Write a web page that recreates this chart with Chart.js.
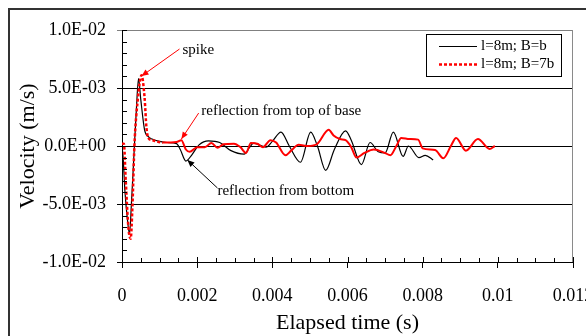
<!DOCTYPE html>
<html>
<head>
<meta charset="utf-8">
<script src="https://cdn.jsdelivr.net/npm/chart.js@4/dist/chart.umd.min.js"></script>
<style>
  html, body { margin: 0; padding: 0; background: #fff; }
  #wrap { position: relative; width: 586px; height: 336px; overflow: hidden; }
</style>
</head>
<body>
<div id="wrap"><canvas id="c" width="586" height="336"></canvas></div>
<script>
// ---- data (time in s, velocity in m/s) ----
const seriesLabels = ['l=8m; B=b', 'l=8m; B=7b'];

const blackTime = [0, 0.00003, 0.00008, 0.00015, 0.0002, 0.00025, 0.00033, 0.00038, 0.00044, 0.0005,
  0.0006, 0.0007, 0.0008, 0.001, 0.0012, 0.00145, 0.00155, 0.0017, 0.00185, 0.00205,
  0.0023, 0.0026, 0.0029, 0.00325, 0.0034, 0.0035, 0.00365, 0.00383, 0.004, 0.00423,
  0.00445, 0.00475, 0.00502, 0.0052, 0.00542, 0.00565, 0.00595, 0.0061, 0.00637, 0.0066,
  0.00682, 0.007, 0.00722, 0.00748, 0.00762, 0.0079, 0.00807, 0.00828];
const blackVel = [0, -0.001, -0.004, -0.0065, -0.0076, -0.005, 0, 0.003, 0.0058, 0.004,
  0.0014, 0.0008, 0.0006, 0.0004, 0.0003, 0.0002, -0.0003, -0.0013, -0.0008, 0.0001,
  0.00045, 0.0003, -0.0004, -0.0007, -0.0001, 0.00025, 0.0001, -0.0001, 0.0004, 0.0012,
  0, -0.0014, 0.0012, 0, -0.0021, -0.0003, 0.0013, 0.0005, -0.0016, 0.0003,
  -0.0005, -0.0006, 0.0012, -0.0009, 0, -0.001, -0.0008, -0.0012];

const redTime = [0, 0.00005, 0.0001, 0.00017, 0.00023, 0.00028, 0.00033, 0.00042, 0.00052, 0.0006,
  0.00065, 0.0007, 0.0008, 0.0011, 0.00145, 0.00158, 0.0017, 0.0018, 0.002, 0.0022,
  0.00238, 0.00254, 0.0027, 0.00298, 0.00315, 0.0033, 0.00343, 0.0036, 0.00375, 0.00395,
  0.0041, 0.00435, 0.0045, 0.0047, 0.00495, 0.0052, 0.0055, 0.00563, 0.0058, 0.00595,
  0.0061, 0.00624, 0.00645, 0.0067, 0.007, 0.00714, 0.0073, 0.00743, 0.00765, 0.00788,
  0.008, 0.00833, 0.00855, 0.00875, 0.00889, 0.00915, 0.00947, 0.00978, 0.00992];
const redVel = [0.0002, 0.0002, -0.003, -0.007, -0.008, -0.005, 0, 0.004, 0.0061, 0.0042,
  0.0016, 0.0007, 0.0005, 0.0003, 0.00035, 0.0005, -0.0003, -0.0005, -0.0001, -0.0001,
  0.00025, -0.00015, 0.00015, 0.0002, -0.0001, -0.0006, 0.00025, 0.0002, -0.0001, 0.0005,
  0.0003, -0.0008, -0.0004, 0.0001, 0, 0.0002, 0.0014, 0.0009, 0.0006, 0.0005,
  -0.0001, -0.001, -0.0006, -0.0003, -0.0006, -0.0008, 0, 0.0007, 0.0006, 0.00055,
  -0.0002, -0.00035, -0.00105, 0, 0.0007, -0.0004, 0.0006, -0.00025, 0];

const xTickValues = [0, 0.002, 0.004, 0.006, 0.008, 0.01, 0.012];
const xTickLabels = ['0', '0.002', '0.004', '0.006', '0.008', '0.01', '0.012'];
const yTickValues = [-0.01, -0.005, 0, 0.005, 0.01];
const yTickLabels = ['-1.0E-02', '-5.0E-03', '0.0E+00', '5.0E-03', '1.0E-02'];

// annotations: [text, textX, textY, arrowFromX, arrowFromY, arrowToX, arrowToY, colour] in data units
const notes = [
  ['spike', 0.00161, 0.00828, 0.00153, 0.00836, 0.00052, 0.00603, '#ff0000'],
  ['reflection from top of base', 0.00211, 0.00304, 0.00204, 0.00284, 0.00158, 0.0006, '#ff0000'],
  ['reflection from bottom', 0.00254, -0.00385, 0.00254, -0.00362, 0.00174, -0.0012, '#000000']
];

const FONT = "'Liberation Serif', 'Times New Roman', serif";

const pts = (xs, ys) => xs.map((x, i) => ({x: x, y: ys[i]}));

const decor = {
  id: 'decor',
  beforeDraw(chart) {
    const ctx = chart.ctx;
    ctx.save();
    ctx.strokeStyle = '#333';
    ctx.lineWidth = 2;
    ctx.beginPath();
    ctx.moveTo(9, 340); ctx.lineTo(9, 9); ctx.lineTo(600, 9);
    ctx.stroke();
    ctx.restore();
  },
  afterDraw(chart) {
    const ctx = chart.ctx;
    const xs = chart.scales.x, ys = chart.scales.y;
    const a = chart.chartArea;
    ctx.save();
    // right plot border
    ctx.strokeStyle = '#8a8a8a';
    ctx.lineWidth = 1;
    ctx.beginPath();
    ctx.moveTo(Math.round(a.right) - 0.5, a.top); ctx.lineTo(Math.round(a.right) - 0.5, a.bottom);
    ctx.stroke();
    // minor / inner ticks
    ctx.strokeStyle = '#000';
    ctx.lineWidth = 1;
    ctx.beginPath();
    for (let i = -10; i <= 10; i++) {
      const py = Math.round(ys.getPixelForValue(i * 0.001)) + 0.5;
      ctx.moveTo(a.left, py); ctx.lineTo(a.left + 5, py);
    }
    for (let i = 0; i <= 24; i++) {
      const px = Math.round(xs.getPixelForValue(i * 0.0005)) + 0.5;
      const len = (i % 4 === 0) ? 5 : 4;
      ctx.moveTo(px, a.bottom); ctx.lineTo(px, a.bottom - len);
    }
    ctx.stroke();
    // annotations
    ctx.font = '15px ' + FONT;
    ctx.textBaseline = 'middle';
    ctx.textAlign = 'left';
    notes.forEach(n => {
      const [txt, tx, ty, fx, fy, toX, toY, col] = n;
      ctx.fillStyle = '#000';
      ctx.fillText(txt, xs.getPixelForValue(tx), ys.getPixelForValue(ty));
      const x1 = xs.getPixelForValue(fx), y1 = ys.getPixelForValue(fy);
      const x2 = xs.getPixelForValue(toX), y2 = ys.getPixelForValue(toY);
      ctx.strokeStyle = col; ctx.fillStyle = col; ctx.lineWidth = 1;
      ctx.beginPath(); ctx.moveTo(x1, y1); ctx.lineTo(x2, y2); ctx.stroke();
      const ang = Math.atan2(y2 - y1, x2 - x1), L = 7, W = 3;
      ctx.beginPath();
      ctx.moveTo(x2, y2);
      ctx.lineTo(x2 - L * Math.cos(ang) + W * Math.sin(ang), y2 - L * Math.sin(ang) - W * Math.cos(ang));
      ctx.lineTo(x2 - L * Math.cos(ang) - W * Math.sin(ang), y2 - L * Math.sin(ang) + W * Math.cos(ang));
      ctx.closePath(); ctx.fill();
    });
    // legend box
    ctx.fillStyle = '#fff';
    ctx.fillRect(426, 34, 135, 42);
    ctx.strokeStyle = '#000'; ctx.lineWidth = 1;
    ctx.strokeRect(426.5, 34.5, 135, 42);
    chart.data.datasets.forEach((ds, i) => {
      const yy = 46 + i * 17.6;
      ctx.save();
      ctx.strokeStyle = ds.borderColor; ctx.lineWidth = ds.borderWidth;
      ctx.setLineDash(ds.borderDash || []);
      ctx.beginPath(); ctx.moveTo(439, Math.round(yy) + 0.5); ctx.lineTo(477, Math.round(yy) + 0.5); ctx.stroke();
      ctx.restore();
      ctx.fillStyle = '#000';
      ctx.font = '15px ' + FONT;
      ctx.fillText(ds.label, 481, yy);
    });
    ctx.restore();
  }
};

new Chart(document.getElementById('c'), {
  type: 'line',
  data: {
    datasets: [
      { label: seriesLabels[0], data: pts(blackTime, blackVel), borderColor: '#000000', borderWidth: 1.2,
        pointRadius: 0, cubicInterpolationMode: 'monotone', fill: false, order: 1 },
      { label: seriesLabels[1], data: pts(redTime, redVel), borderColor: '#ff0000', borderWidth: 2.5,
        borderDash: [3, 2], pointRadius: 0, cubicInterpolationMode: 'monotone', fill: false, order: 0,
        segment: {
          borderDash: c => (c.p0.parsed.x < 0.0009 ? [3, 2] : []),
          borderWidth: c => (c.p0.parsed.x < 0.0009 ? 2.5 : 2)
        } }
    ]
  },
  options: {
    responsive: false,
    animation: false,
    devicePixelRatio: 1,
    layout: { padding: { top: 30, right: 13, left: 0, bottom: 0 } },
    plugins: { legend: { display: false }, tooltip: { enabled: false } },
    scales: {
      x: {
        type: 'linear', min: 0, max: 0.012,
        afterBuildTicks: s => { s.ticks = xTickValues.map(v => ({value: v})); },
        afterFit: s => { s.height = 74; s.paddingLeft = 0; s.paddingRight = 0; },
        grid: { drawOnChartArea: false, drawTicks: true, tickLength: 6, color: '#000', lineWidth: 1 },
        border: { display: true, color: '#000', width: 1 },
        ticks: { color: '#000', font: { family: FONT, size: 18 }, padding: 17, maxRotation: 0,
                 autoSkip: false, callback: (v, i) => xTickLabels[i] },
        title: { display: true, text: 'Elapsed time (s)', color: '#000',
                 font: { family: FONT, size: 22 }, padding: { top: 0, bottom: 0 } }
      },
      y: {
        type: 'linear', min: -0.01, max: 0.01,
        afterBuildTicks: s => { s.ticks = yTickValues.map(v => ({value: v})); },
        afterFit: s => { s.width = 122; s.paddingTop = 0; s.paddingBottom = 0; },
        grid: { drawOnChartArea: true, drawTicks: true, tickLength: 5, lineWidth: 1,
                color: c => (c.tick && c.tick.value === 0.01) ? '#808080' : '#000' },
        border: { display: true, color: '#000', width: 1 },
        ticks: { color: '#000', font: { family: FONT, size: 18 }, padding: 11,
                 autoSkip: false, callback: (v, i) => yTickLabels[i] },
        title: { display: true, text: 'Velocity (m/s)', color: '#000',
                 font: { family: FONT, size: 22 }, padding: { top: 15, bottom: 0 } }
      }
    }
  },
  plugins: [decor]
});
</script>
</body>
</html>
